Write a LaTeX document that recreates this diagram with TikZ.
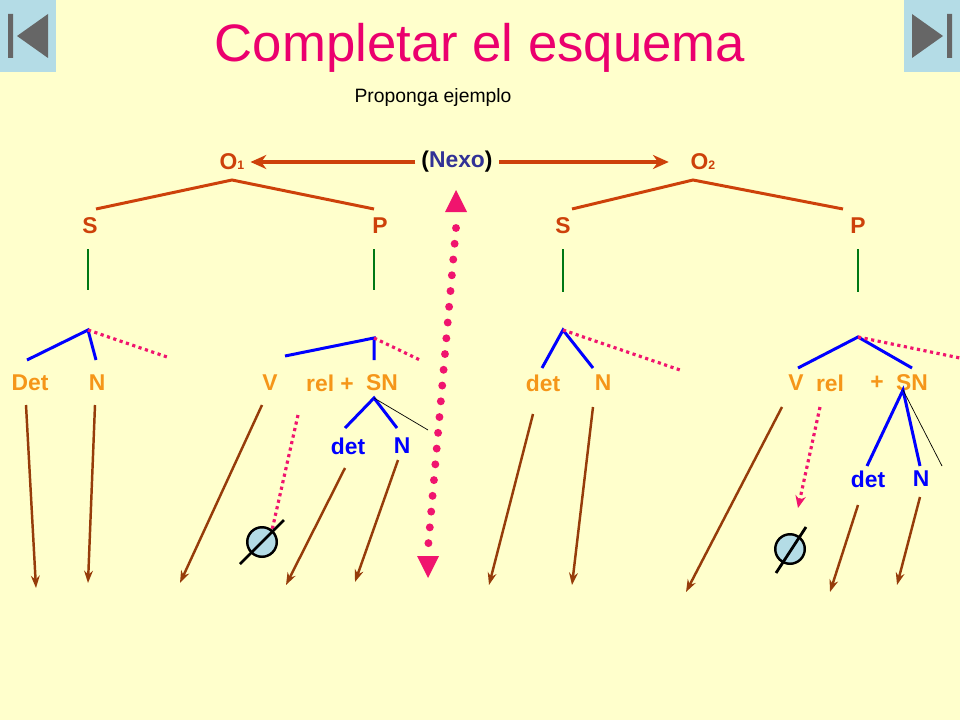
\documentclass[tikz,border=0pt]{standalone}
\usepackage{fontspec}
\setmainfont{Liberation Sans}
\usetikzlibrary{arrows.meta}
\definecolor{bgy}{RGB}{255,255,204}
\definecolor{titc}{RGB}{235,0,110}
\definecolor{treec}{RGB}{205,65,10}
\definecolor{labc}{RGB}{245,150,25}
\definecolor{brn}{RGB}{150,60,10}
\definecolor{pnk}{RGB}{240,20,110}
\definecolor{grn}{RGB}{0,120,20}
\definecolor{nex}{RGB}{50,50,150}
\definecolor{icob}{RGB}{180,220,230}
\newcommand{\sbs}[1]{{\fontsize{7}{8}\selectfont #1}}
\tikzset{
  lab/.style={font=\bfseries\fontsize{13}{15}\selectfont},
  olab/.style={lab, text=treec},
  ylab/.style={lab, text=labc},
  blab/.style={lab, text=blue},
  tree/.style={draw=treec, line width=1.7pt},
  blu/.style={draw=blue, line width=1.7pt},
  gline/.style={draw=grn, line width=1.6pt},
  pdot/.style={draw=pnk, line width=1.8pt, dotted},
  arr/.style={draw=brn, line width=1.4pt, -{Stealth[length=7pt,width=5pt]}},
  empty/.style={draw, circle, fill=icob, line width=1.4pt, minimum size=30pt*0.56, inner sep=0pt}
}
\begin{document}
\begin{tikzpicture}[x=0.2mm,y=-0.2mm]
\fill[bgy] (0,0) rectangle (960,720);
\useasboundingbox (0,0) rectangle (960,720);
% buttons
\fill[icob] (0,0) rectangle (56,72);
\fill[icob] (904,0) rectangle (960,72);
\fill[gray!80!black] (8,14) rectangle (13,58) (17,36) -- (48,14) -- (48,58) -- cycle;
\fill[gray!80!black] (947,14) rectangle (952,58) (943,36) -- (912,14) -- (912,58) -- cycle;
% titles
\node[text=titc, font=\fontsize{30}{34}\selectfont] (title) at (480,48) {Completar el esquema};
\node[font=\fontsize{11}{13}\selectfont] (sub) at (433,98) {Proponga ejemplo};
% top
\node[olab] (o1) at (232,162) {O\sbs{1}};
\node[olab] (o2) at (703,162) {O\sbs{2}};
\node[lab] (nexo) at (457,162) {(\textcolor{nex}{Nexo})};
\draw[draw=treec, line width=1.8pt, -{Stealth[length=9pt,width=8pt]}] (nexo.west) -- (o1.east);
\draw[draw=treec, line width=1.8pt, -{Stealth[length=9pt,width=8pt]}] (nexo.east) -- ++(170,0) coordinate (n2);
% left clause
\coordinate (a1) at (232,180);
\draw[tree] (96,209) -- (a1) -- (374,209);
\node[olab] (s1) at (90,226) {S};
\node[olab] (p1) at (380,226) {P};
\draw[gline] (88,249) -- (88,290);
\draw[gline] (374,249) -- (374,290);
\draw[blu] (27,360) -- (88,330) -- (96,360);
\draw[pdot] (88,330) -- (170,358);
\draw[blu] (285,356) -- (374,338) -- (374,360);
\draw[pdot] (374,338) -- (420,360);
\node[ylab] (det1) at (30,383) {Det};
\node[ylab] (n1) at (97,383) {N};
\node[ylab] (v1) at (270,383) {V};
\node[ylab] (rel1) at (330,383) {rel +};
\node[ylab] (sn1) at (382,383) {SN};
\draw[blu] (345,428) -- (374,398) -- (397,428);
\draw[thin] (374,398) -- (428,430);
\node[blab] (det1b) at (348,446) {det};
\node[blab] (n1b) at (402,446) {N};
\draw[arr] (26,405) -- (36,588);
\draw[arr] (95,405) -- (88,583);
\draw[arr] (262,405) -- (180,583);
\draw[pdot, -{Stealth[length=7pt,width=6pt]}] (298,415) -- (268,548);
\draw[arr] (345,468) -- (286,585);
\draw[arr] (398,460) -- (355,582);
\node[empty] (e1) at (262,542) {};
\draw[line width=1.6pt] (240,564) -- (284,520);
% nexo link
\fill[pnk] (456,190) -- (467,212) -- (445,212) -- cycle;
\fill[pnk] (428,578) -- (439,556) -- (417,556) -- cycle;
\draw[pnk, line width=4.5pt, line cap=round, dash pattern=on 0pt off 9pt] (456,228) -- (428,548);
% right clause
\coordinate (a2) at (693,180);
\draw[tree] (572,209) -- (a2) -- (843,209);
\node[olab] (s2) at (563,226) {S};
\node[olab] (p2) at (858,226) {P};
\draw[gline] (563,249) -- (563,292);
\draw[gline] (858,249) -- (858,292);
\draw[blu] (542,368) -- (563,330) -- (593,368);
\draw[pdot] (563,330) -- (680,370);
\draw[blu] (798,368) -- (858,337) -- (912,368);
\draw[pdot] (858,337) -- (960,358);
\node[ylab] (det2) at (543,383) {det};
\node[ylab] (n2l) at (603,383) {N};
\node[ylab] (v2) at (796,383) {V};
\node[ylab] (rel2) at (830,383) {rel};
\node[ylab] (plus2) at (877,383) {+};
\node[ylab] (sn2) at (912,383) {SN};
\draw[blu] (867,466) -- (903,390) -- (920,466);
\draw[thin] (903,390) -- (942,466);
\node[blab] (det2b) at (868,479) {det};
\node[blab] (n2b) at (921,479) {N};
\draw[arr] (533,414) -- (489,585);
\draw[arr] (593,407) -- (572,585);
\draw[arr] (782,407) -- (686,592);
\draw[pdot, -{Stealth[length=7pt,width=6pt]}] (820,407) -- (798,508);
\draw[arr] (858,505) -- (830,592);
\draw[arr] (920,497) -- (897,585);
\node[empty] (e2) at (790,549) {};
\draw[line width=1.6pt] (776,573) -- (806,527);
\end{tikzpicture}
\end{document}
